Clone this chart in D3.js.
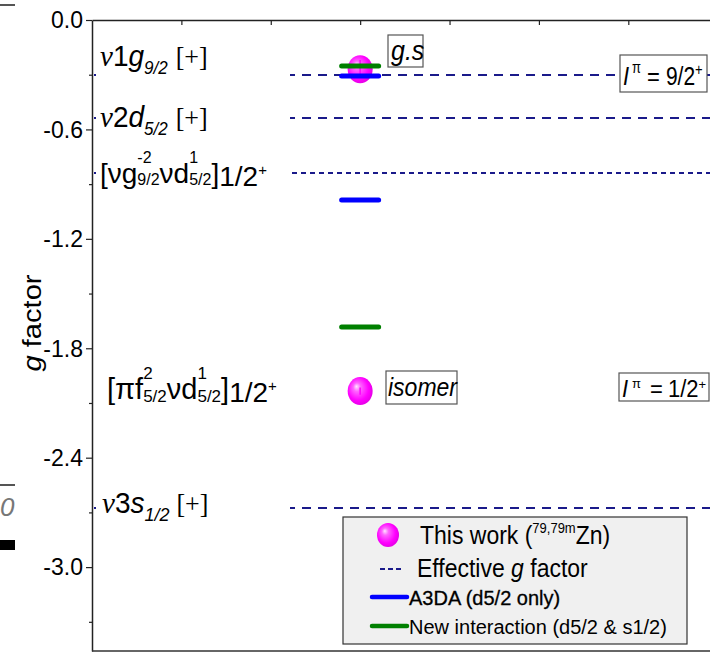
<!DOCTYPE html>
<html><head><meta charset="utf-8">
<script src="https://cdn.jsdelivr.net/npm/d3@7"></script>
<style>body{margin:0;background:#fff;} svg{display:block;} text{white-space:pre;}</style>
</head><body>
<svg id="c" width="710" height="654"></svg>
<script>
// ---- data ----
const yMajor = [0, -0.6, -1.2, -1.8, -2.4, -3.0];
const yMinor = [-0.3, -0.9, -1.5, -2.1, -2.7, -3.3];
const xTicks = [1, 2, 3, 4, 5, 6, 7];
const effectiveG = [-0.302, -0.537, -0.839, -2.676];
const effectiveDash = ["9,7", "9,7", "5,4", "9,7"];
const a3da = [-0.307, -0.987];
const newInteraction = [-0.252, -1.684];
const thisWork = [-0.27, -2.035];
const thisWorkErr = [0.05, 0.02];
const stateX = 3;

const SANS = "'Liberation Sans', Arial, sans-serif";
const SERIF = "'Liberation Serif', 'Times New Roman', serif";
const NAVY = "#1a1a8a";

const svg = d3.select("#c");
const x = d3.scaleLinear().domain([0, 6.914]).range([92, 710]);
const y = d3.scaleLinear().domain([-3.46, 0]).range([651, 20]);

const defs = svg.append("defs");
const grad = defs.append("radialGradient").attr("id", "ball")
  .attr("cx", "45%").attr("cy", "45%").attr("r", "60%").attr("fx", "35%").attr("fy", "33%");
grad.append("stop").attr("offset", "0%").attr("stop-color", "#ffe6ff");
grad.append("stop").attr("offset", "25%").attr("stop-color", "#ff66ff");
grad.append("stop").attr("offset", "70%").attr("stop-color", "#ff00ff");
grad.append("stop").attr("offset", "100%").attr("stop-color", "#e000e0");

// ---- rich text helper ----
function rich(parent, px, py, segs, sx = 1, sy = 1) {
  const g = parent.append("g").attr("transform", `translate(${px},${py}) scale(${sx},${sy})`);
  let cx = 0, lastStart = 0;
  segs.forEach(s => {
    const start = s.stack ? lastStart : cx + (s.gap || 0);
    const t = g.append("text").attr("x", start).attr("y", s.dy || 0)
      .attr("font-family", s.serif ? SERIF : SANS)
      .attr("font-size", s.size)
      .attr("font-style", s.it ? "italic" : "normal")
      .attr("font-weight", s.bold ? "bold" : "normal")
      .attr("fill", s.fill || "#000")
      .text(s.t);
    if (s.heavy) t.attr("stroke", "#000").attr("stroke-width", s.heavy);
    const w = t.node().getComputedTextLength();
    if (s.stack) cx = Math.max(cx, start + w);
    else { lastStart = start; cx = start + w; }
  });
  return g;
}

// ---- effective g factor lines ----
const lineLayer = svg.append("g");
effectiveG.forEach((v, i) => {
  lineLayer.append("line").attr("x1", x(0) + 2).attr("x2", x.range()[1])
    .attr("y1", y(v)).attr("y2", y(v))
    .attr("stroke", NAVY).attr("stroke-width", 2).attr("stroke-dasharray", effectiveDash[i]);
});

// ---- state labels with white backgrounds ----
const bgLayer = svg.append("g");
const labelLayer = svg.append("g");
function stateLabel(px, py, segs, sx, sy) {
  const g = rich(labelLayer, px, py, segs, sx, sy);
  const bb = g.node().getBBox();
  bgLayer.append("rect").attr("x", 96).attr("width", 194)
    .attr("y", py + bb.y * (sy || 1) - 1).attr("height", bb.height * (sy || 1) + 2)
    .attr("fill", "#fff");
}
stateLabel(100, 66, [
  { t: "ν", serif: true, it: true, size: 29 },
  { t: "1", size: 28 },
  { t: "g", it: true, size: 28 },
  { t: "9/2", it: true, size: 17, dy: 8 },
  { t: "[+]", serif: true, size: 26, gap: 8 }
], 1, 1.05);
stateLabel(100, 127, [
  { t: "ν", serif: true, it: true, size: 29 },
  { t: "2", size: 28 },
  { t: "d", it: true, size: 28 },
  { t: "5/2", it: true, size: 17, dy: 8 },
  { t: "[+]", serif: true, size: 26, gap: 8 }
], 1, 1.05);
stateLabel(100, 183, [
  { t: "[", size: 28 }, { t: "ν", size: 28 }, { t: "g", size: 28 },
  { t: "-2", size: 16, dy: -20 }, { t: "9/2", size: 16, dy: 2, stack: true },
  { t: "ν", size: 28 }, { t: "d", size: 28 },
  { t: "1", size: 16, dy: -20 }, { t: "5/2", size: 16, dy: 2, stack: true },
  { t: "]", size: 28 }, { t: "1/2", size: 28, dy: 3 }, { t: "+", size: 15, dy: -8 }
], 1, 1);
stateLabel(107, 399, [
  { t: "[", size: 29 }, { t: "π", size: 29 }, { t: "f", size: 29 },
  { t: "2", size: 17, dy: -20 }, { t: "5/2", size: 17, dy: 3, stack: true },
  { t: "ν", size: 29 }, { t: "d", size: 29 },
  { t: "1", size: 17, dy: -20 }, { t: "5/2", size: 17, dy: 3, stack: true },
  { t: "]", size: 29 }, { t: "1/2", size: 28, dy: 3 }, { t: "+", size: 15, dy: -8 }
], 1, 1);
stateLabel(102, 513, [
  { t: "ν", serif: true, it: true, size: 29 },
  { t: "3", size: 28 },
  { t: "s", it: true, size: 28 },
  { t: "1/2", it: true, size: 18, dy: 8 },
  { t: "[+]", serif: true, size: 26, gap: 7 }
], 1, 1.05);

// ---- boxed annotations ----
function boxed(x0, y0, x1, y1, px, py, segs, sx, sy) {
  svg.append("rect").attr("x", x0).attr("y", y0).attr("width", x1 - x0).attr("height", y1 - y0)
    .attr("fill", "#fff").attr("stroke", "#555").attr("stroke-width", 1.2);
  rich(svg, px, py, segs, sx, sy);
}
boxed(620, 55, 707, 92, 623, 85, [
  { t: "I", it: true, size: 22 }, { t: "π", size: 13, dy: -10, gap: 3 },
  { t: "=", size: 22, gap: 6 }, { t: "9/2", size: 21, gap: 6 }, { t: "+", size: 13, dy: -8 }
], 1, 1.2);
boxed(619, 373, 709, 401, 622, 397, [
  { t: "I", it: true, size: 22 }, { t: "π", size: 13, dy: -9, gap: 4 },
  { t: "=", size: 22, gap: 9 }, { t: "1/2", size: 22, gap: 5 }, { t: "+", size: 13, dy: -8 }
], 1, 1.05);

// ---- data marks ----
const marks = svg.append("g");
const half = 0.207;
thisWork.forEach((v, i) => {
  marks.append("ellipse").attr("cx", x(stateX)).attr("cy", y(v))
    .attr("rx", 12.5).attr("ry", 14).attr("fill", "url(#ball)");
  marks.append("line").attr("x1", x(stateX)).attr("x2", x(stateX))
    .attr("y1", y(v - thisWorkErr[i])).attr("y2", y(v + thisWorkErr[i]))
    .attr("stroke", "#ff00ff").attr("stroke-width", 1.5);
});
a3da.forEach(v => {
  marks.append("line").attr("x1", x(stateX - half)).attr("x2", x(stateX + half))
    .attr("y1", y(v)).attr("y2", y(v))
    .attr("stroke", "#0000ff").attr("stroke-width", 5).attr("stroke-linecap", "round");
});
newInteraction.forEach(v => {
  marks.append("line").attr("x1", x(stateX - half)).attr("x2", x(stateX + half))
    .attr("y1", y(v)).attr("y2", y(v))
    .attr("stroke", "#008000").attr("stroke-width", 5).attr("stroke-linecap", "round");
});

boxed(388, 35, 423, 67, 391, 60, [{ t: "g.s", it: true, size: 25 }], 1, 1.1);
boxed(386, 371, 457, 404, 388, 396, [{ t: "isomer", it: true, size: 23 }], 1, 1.1);

// ---- axes ----
const yAxis = svg.append("g").attr("transform", `translate(${x(0)},0)`)
  .call(d3.axisLeft(y).tickValues(yMajor).tickFormat(d => d.toFixed(1)).tickSize(6).tickSizeOuter(0));
yAxis.select(".domain").attr("stroke", "#222").attr("stroke-width", 1.5);
yAxis.selectAll(".tick line").attr("stroke", "#222").attr("stroke-width", 1.2);
yAxis.selectAll(".tick text").attr("font-family", SANS).attr("font-size", 23).attr("fill", "#000").attr("x", -9).attr("dy", "0.34em");
svg.append("g").attr("transform", `translate(${x(0)},0)`)
  .call(d3.axisLeft(y).tickValues(yMinor).tickFormat("").tickSize(3).tickSizeOuter(0))
  .call(g => g.select(".domain").remove())
  .selectAll(".tick line").attr("stroke", "#222").attr("stroke-width", 1.2);
const xTop = svg.append("g").attr("transform", `translate(0,${y(0)})`)
  .call(d3.axisBottom(x).tickValues(xTicks).tickFormat("").tickSize(5).tickSizeOuter(0));
xTop.select(".domain").attr("stroke", "#222").attr("stroke-width", 1.5);
xTop.selectAll(".tick line").attr("stroke", "#222").attr("stroke-width", 1.2);
svg.append("line").attr("x1", x(0)).attr("x2", x.range()[1]).attr("y1", y(-3.46)).attr("y2", y(-3.46))
  .attr("stroke", "#333").attr("stroke-width", 1.5);

svg.append("text").attr("transform", "translate(41,323) rotate(-90)")
  .attr("text-anchor", "middle").attr("font-family", SANS).attr("font-size", 25)
  .attr("textLength", 97).attr("lengthAdjust", "spacingAndGlyphs")
  .html('<tspan font-style="italic">g</tspan> factor');

// ---- legend ----
const lg = svg.append("g");
lg.append("rect").attr("x", 343).attr("y", 517).attr("width", 344).attr("height", 127)
  .attr("fill", "#f0f0f0").attr("stroke", "#333").attr("stroke-width", 1.2);
lg.append("ellipse").attr("cx", 388).attr("cy", 535).attr("rx", 11).attr("ry", 12).attr("fill", "url(#ball)");
rich(lg, 420, 544, [
  { t: "This work (", size: 23 }, { t: "79,79m", size: 13, dy: -10 }, { t: "Zn)", size: 23 }
], 1, 1.1);
lg.append("line").attr("x1", 380).attr("x2", 403).attr("y1", 569).attr("y2", 569)
  .attr("stroke", NAVY).attr("stroke-width", 2).attr("stroke-dasharray", "5,3");
rich(lg, 417, 577, [
  { t: "Effective ", size: 23 }, { t: "g", it: true, size: 23 }, { t: " factor", size: 23 }
], 1, 1.1);
lg.append("line").attr("x1", 372).attr("x2", 407).attr("y1", 597).attr("y2", 597)
  .attr("stroke", "#0000ff").attr("stroke-width", 4.5).attr("stroke-linecap", "round");
rich(lg, 409, 605, [{ t: "A3DA (d5/2 only)", size: 20, heavy: 0.3 }]);
lg.append("line").attr("x1", 372).attr("x2", 407).attr("y1", 626).attr("y2", 626)
  .attr("stroke", "#008000").attr("stroke-width", 4.5).attr("stroke-linecap", "round");
rich(lg, 409, 634, [{ t: "New interaction (d5/2 & s1/2)", size: 20 }]);

// ---- fragments of the neighbouring figure at the left edge ----
svg.append("line").attr("x1", 0).attr("x2", 15).attr("y1", 5).attr("y2", 5).attr("stroke", "#555").attr("stroke-width", 2);
svg.append("line").attr("x1", 0).attr("x2", 15).attr("y1", 485).attr("y2", 485).attr("stroke", "#555").attr("stroke-width", 2);
svg.append("text").attr("x", 0).attr("y", 516).attr("font-family", SANS).attr("font-style", "italic")
  .attr("font-size", 26).attr("fill", "#777").text("0");
svg.append("rect").attr("x", 0).attr("y", 540).attr("width", 15).attr("height", 10).attr("fill", "#000");
</script>
</body></html>
